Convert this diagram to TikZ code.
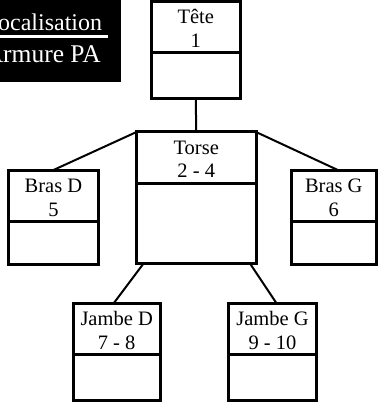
\documentclass[tikz,border=0pt]{standalone}
\usepackage{fontspec}
\setmainfont{Liberation Serif}
\usetikzlibrary{positioning}

\newcommand{\souligne}[1]{\setbox0\hbox{#1}\rlap{\rule[-7.5pt]{\dimexpr\wd0+6pt\relax}{3pt}}\box0}

\begin{document}
\begin{tikzpicture}[x=1pt,y=-1pt,
        haut/.style={draw,line width=3pt,outer sep=0pt,inner sep=0pt,align=center,
            minimum height=51pt,text height=41pt,text depth=0pt,
            font=\fontsize{20.5}{23.5}\selectfont},
        bas/.style={draw,line width=3pt,outer sep=0pt,inner sep=0pt},
        lien/.style={line width=2pt},
        legende/.style={fill=black,text=white,align=center,inner sep=0pt,
            font=\fontsize{24}{32}\selectfont}]

        \useasboundingbox (0,0) rectangle (379,403);
        \clip (0,0) rectangle (379,403);

        \node[legende,minimum width=156pt,minimum height=86pt,anchor=south east] (titre) at (121,82) {\souligne{Localisation}\\\fontsize{25.5}{32}\selectfont Armure PA};

        \node[haut,minimum width=88.5pt,anchor=north] (tete) at (195.75,1.5) {Tête\\1};
        \node[bas,minimum width=88.5pt,minimum height=46pt,below=0pt of tete] (tete-bas) {};

        \node[haut,minimum width=119.5pt,anchor=north] (torse) at (196.25,132) {Torse\\2 - 4};
        \node[bas,minimum width=119.5pt,minimum height=80.5pt,below=0pt of torse] (torse-bas) {};

        \node[haut,minimum width=90pt,anchor=north] (brasd) at (53.5,170) {Bras D\\5};
        \node[bas,minimum width=90pt,minimum height=43.7pt,below=0pt of brasd] (brasd-bas) {};

        \node[haut,minimum width=85.5pt,anchor=north] (brasg) at (333.75,170) {Bras G\\6};
        \node[bas,minimum width=85.5pt,minimum height=43.7pt,below=0pt of brasg] (brasg-bas) {};

        \node[haut,minimum width=86.7pt,anchor=north] (jambed) at (116.65,303.3) {Jambe D\\7 - 8};
        \node[bas,minimum width=86.7pt,minimum height=45.7pt,below=0pt of jambed] (jambed-bas) {};

        \node[haut,minimum width=88.4pt,anchor=north] (jambeg) at (272.5,303.3) {Jambe G\\9 - 10};
        \node[bas,minimum width=88.4pt,minimum height=45.7pt,below=0pt of jambeg] (jambeg-bas) {};

        \draw[lien] (tete-bas.south) -- (torse.north);
        \draw[lien] (torse.north west) -- (brasd.north);
        \draw[lien] (torse.north east) -- ([xshift=4pt]brasg.north);
        \draw[lien] ([xshift=7pt]torse-bas.south west) -- ([xshift=-3pt]jambed.north);
        \draw[lien] ([xshift=-6pt]torse-bas.south east) -- ([xshift=4pt]jambeg.north);
    \end{tikzpicture}
\end{document}
